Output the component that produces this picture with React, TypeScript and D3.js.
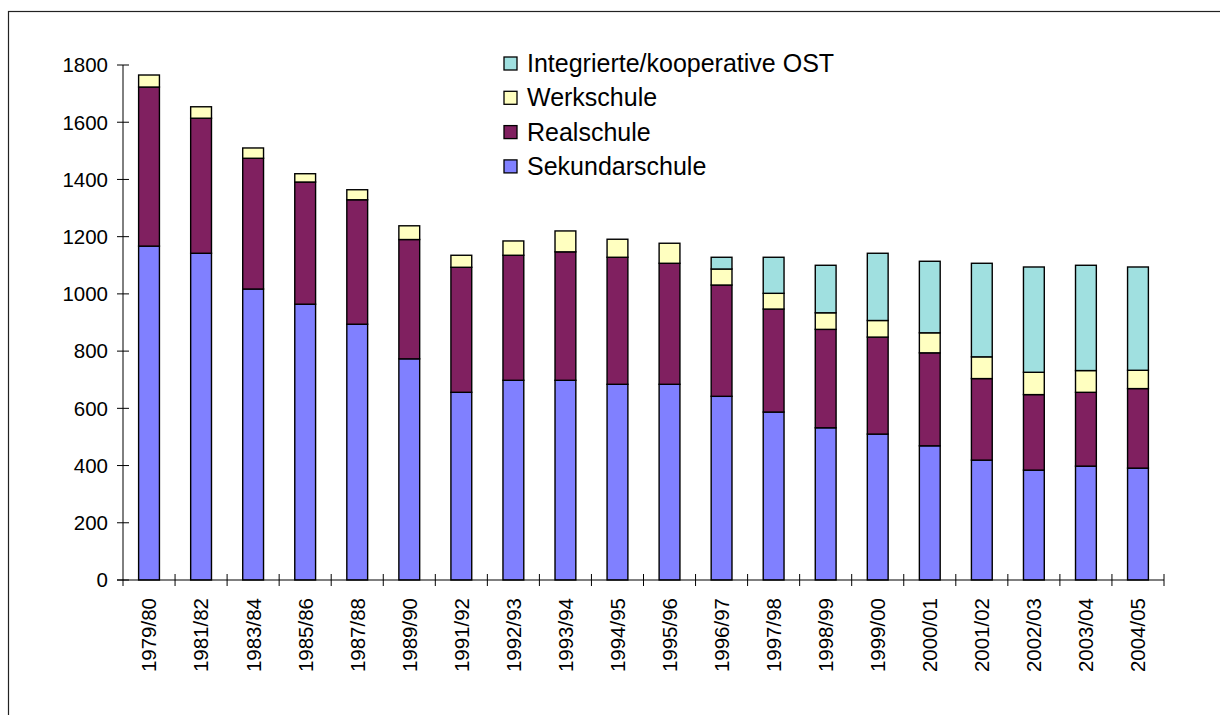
import React, { useEffect, useRef } from "react";
import * as d3 from "d3";

const categories = ["1979/80","1981/82","1983/84","1985/86","1987/88","1989/90","1991/92","1992/93","1993/94","1994/95","1995/96","1996/97","1997/98","1998/99","1999/00","2000/01","2001/02","2002/03","2003/04","2004/05"];
const sekundarschule = [1167,1142,1017,964,894,773,656,698,698,684,684,642,587,532,510,469,419,384,398,391];
const realschule = [556,472,457,427,435,417,437,437,449,444,423,389,360,344,339,325,285,264,258,278];
const werkschule = [42,40,36,29,35,48,42,50,73,63,70,56,55,58,58,70,76,78,76,64];
const integrierteOST = [0,0,0,0,0,0,0,0,0,0,0,41,126,166,235,250,327,368,368,361];
const seriesNames = ["Sekundarschule","Realschule","Werkschule","Integrierte/kooperative OST"];
const seriesColors = ["#8080FF","#802060","#FFFFC0","#A0E0E0"];
const yTicks = [0,200,400,600,800,1000,1200,1400,1600,1800];

export default function App() {
  const ref = useRef<SVGSVGElement>(null);
  useEffect(() => {
    const svg = d3.select(ref.current);
    svg.selectAll("*").remove();
    const font = "'Liberation Sans', Arial, sans-serif";
    const left = 123, right = 1164, top = 65, bottom = 580;

    svg.append("rect").attr("x", 8.5).attr("y", 11.5).attr("width", 1300).attr("height", 800)
      .attr("fill", "white").attr("stroke", "#222").attr("stroke-width", 1.2);

    const x = d3.scaleBand<string>().domain(categories).range([left, right]).paddingInner(0.6).paddingOuter(0.3);
    const y = d3.scaleLinear().domain([0, 1800]).range([bottom, top]);

    const table = categories.map((c, i) => ({
      cat: c,
      s0: sekundarschule[i], s1: realschule[i], s2: werkschule[i], s3: integrierteOST[i],
    }));
    const stack = d3.stack<any>().keys(["s0","s1","s2","s3"]);
    const layers = stack(table);

    layers.forEach((layer, li) => {
      svg.append("g").selectAll("rect").data(layer.filter(d => d[1] - d[0] > 0)).enter().append("rect")
        .attr("x", d => x(d.data.cat)!)
        .attr("width", x.bandwidth())
        .attr("y", d => y(d[1]))
        .attr("height", d => y(d[0]) - y(d[1]))
        .attr("fill", seriesColors[li])
        .attr("stroke", "#000")
        .attr("stroke-width", 1.4);
    });

    // Y axis
    const ya = svg.append("g");
    ya.append("line").attr("x1", left).attr("x2", left).attr("y1", y(1800)).attr("y2", bottom + 6).attr("stroke", "#000").attr("stroke-width", 1);
    yTicks.forEach(t => {
      ya.append("line").attr("x1", left - 6).attr("x2", left + 6).attr("y1", y(t)).attr("y2", y(t)).attr("stroke", "#000");
      ya.append("text").attr("x", left - 15).attr("y", y(t)).attr("dy", "0.36em").attr("text-anchor", "end")
        .attr("font-family", font).attr("font-size", 20.5).attr("fill", "#000").text(String(t));
    });

    // X axis
    const xa = svg.append("g");
    xa.append("line").attr("x1", left - 6).attr("x2", right).attr("y1", bottom).attr("y2", bottom).attr("stroke", "#000");
    const step = x.step();
    categories.forEach((c, i) => {
      const bx = left + step * (i + 1);
      xa.append("line").attr("x1", bx).attr("x2", bx).attr("y1", bottom - 6).attr("y2", bottom + 6).attr("stroke", "#000");
      const cx = x(c)! + x.bandwidth() / 2;
      xa.append("text").attr("transform", `translate(${cx},${bottom + 18}) rotate(-90)`)
        .attr("text-anchor", "end").attr("dy", "0.36em")
        .attr("font-family", font).attr("font-size", 20.5).attr("fill", "#000").text(c);
    });

    // Legend
    const lg = svg.append("g");
    const order = [3, 2, 1, 0];
    order.forEach((si, k) => {
      const cy = 63 + k * 34.3;
      lg.append("rect").attr("x", 504).attr("y", cy - 6).attr("width", 13).attr("height", 13)
        .attr("fill", seriesColors[si]).attr("stroke", "#000").attr("stroke-width", 1.3);
      lg.append("text").attr("x", 527).attr("y", cy).attr("dy", "0.36em")
        .attr("font-family", font).attr("font-size", 25).attr("fill", "#000").text(seriesNames[si]);
    });
  }, []);
  return (
    <svg ref={ref} width={1220} height={715}
      style={{ position: "absolute", left: 0, top: 0, background: "white" }} />
  );
}
